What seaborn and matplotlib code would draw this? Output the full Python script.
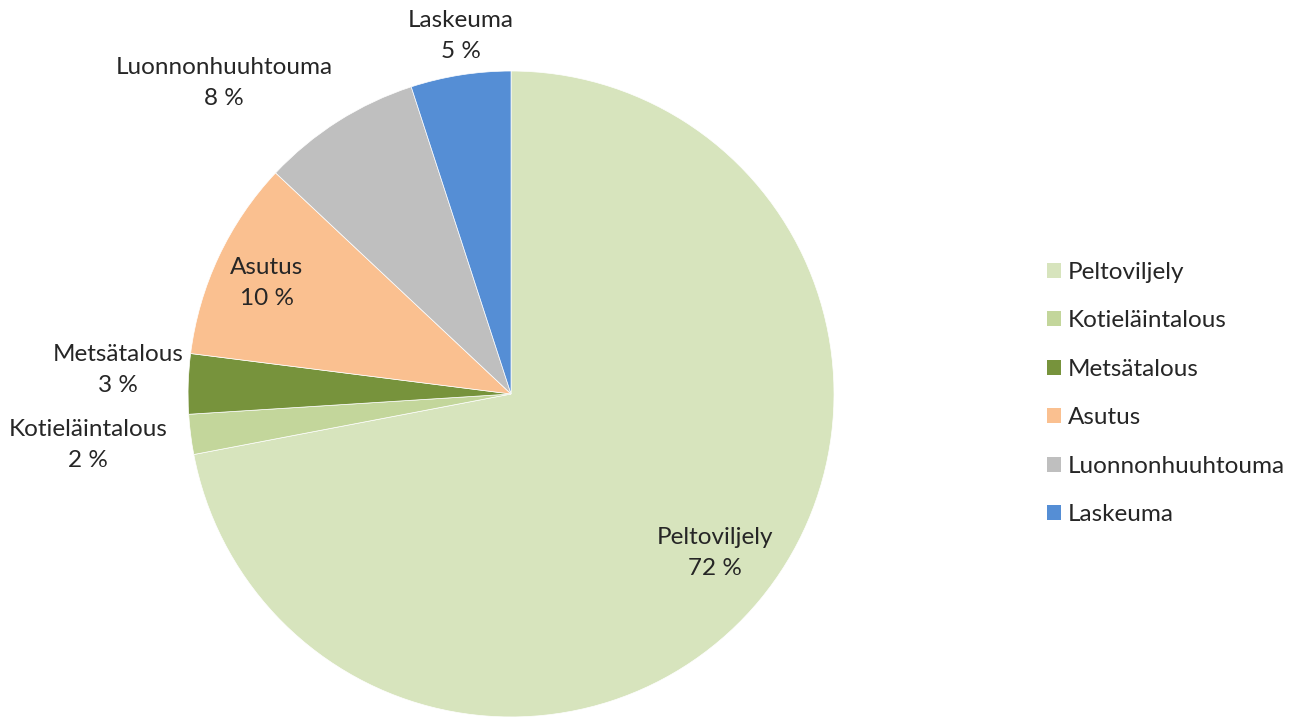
import numpy as np
import matplotlib
matplotlib.use("Agg")
import matplotlib.pyplot as plt
from matplotlib.patches import Patch
import seaborn as sns

# Shares of the load by source (%)
categories = ["Peltoviljely", "Kotieläintalous", "Metsätalous", "Asutus",
              "Luonnonhuuhtouma", "Laskeuma"]
shares = [72, 2, 3, 10, 8, 5]
colors = ["#D7E4BD", "#C3D69B", "#77933C", "#FAC090", "#BFBFBF", "#558ED5"]

sns.set_theme(style="white")
plt.rcParams["font.family"] = ["Lato", "DejaVu Sans"]

FS = 17.5

fig = plt.figure(figsize=(13.06, 7.17), dpi=100)
ax = fig.add_axes([0.1440, 0.0, 0.4946, 0.901])

wedges, _ = ax.pie(shares, colors=colors, startangle=90, counterclock=False,
                   radius=1.0, wedgeprops=dict(linewidth=0.5, edgecolor="white"))
ax.set_xlim(-1, 1)
ax.set_ylim(-1, 1)
ax.set_aspect("equal")
ax.axis("off")

# label placement: (radial distance, angular shift in degrees) per slice
label_layout = [(0.80, 1.7), (1.32, -0.3), (1.22, -1.7), (0.83, 0.8),
                (1.31, 10.3), (1.12, -1.0)]
for w, name, val, (dist, shift) in zip(wedges, categories, shares, label_layout):
    mid = np.deg2rad((w.theta1 + w.theta2) / 2 + shift)
    x, y = dist * np.cos(mid), dist * np.sin(mid)
    ax.text(x, y, f"{name}\n{val} %", ha="center", va="center",
            fontsize=FS, color="#262626", linespacing=1.6, clip_on=False)

handles = [Patch(facecolor=c, edgecolor="none") for c in colors]
fig.legend(handles, categories, loc="center left",
           bbox_to_anchor=(0.8015, 0.451), frameon=False, fontsize=FS,
           handlelength=0.58, handleheight=0.58, handletextpad=0.28,
           labelspacing=1.13, borderpad=0, borderaxespad=0,
           labelcolor="#262626")

fig.savefig("out.png", dpi=100, facecolor="white")
